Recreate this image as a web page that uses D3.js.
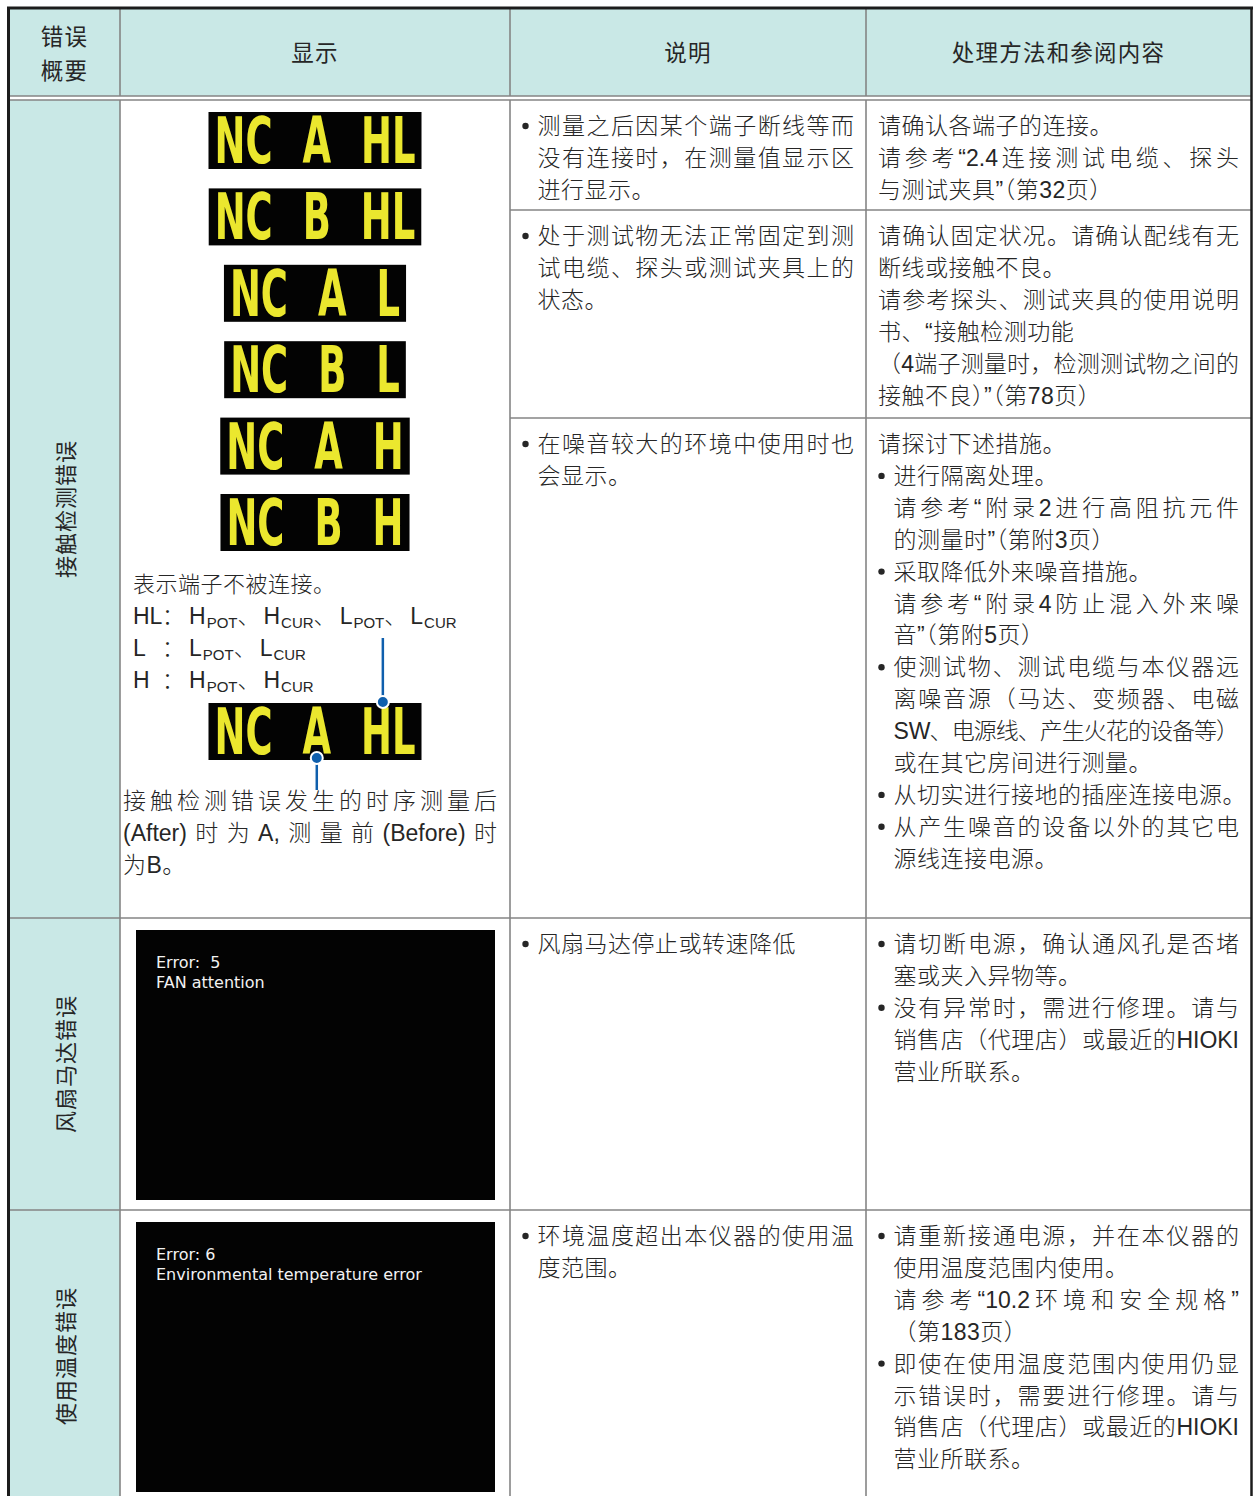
<!DOCTYPE html>
<html><head><meta charset="utf-8">
<script src="https://cdn.jsdelivr.net/npm/d3@7"></script>
<style>
html,body{margin:0;padding:0;background:#fff;}
svg{display:block;}
</style></head><body>
<svg id="chart" width="1253" height="1496"></svg>
<script>
// ---------------- DATA ----------------
const columnHeaders = [["错误", "概要"], ["显示"], ["说明"], ["处理方法和参阅内容"]];
const errorCategories = ["接触检测错误", "风扇马达错误", "使用温度错误"];
const ncDisplays = ["NC A HL", "NC B HL", "NC A L", "NC B L", "NC A H", "NC B H"];
const ncExample = "NC A HL";
const terminalNote = "表示端子不被连接。";
const terminalLabels = ["HL", "L", "H"];
const terminalLists = [
  [["H", "POT"], ["H", "CUR"], ["L", "POT"], ["L", "CUR"]],
  [["L", "POT"], ["L", "CUR"]],
  [["H", "POT"], ["H", "CUR"]]
];
const timingNote = ["接触检测错误发生的时序测量后", "(After) 时 为 A, 测 量 前 (Before) 时", "为B。"];
const screenMessages = [["Error:  5", "FAN attention"], ["Error: 6", "Environmental temperature error"]];

// paragraph kinds: "bullet" = bullet item, "indent" = indented text, "plain" = plain text
const descriptions = [
  [{kind: "bullet", lines: ["测量之后因某个端子断线等而", "没有连接时，在测量值显示区", "进行显示。"]}],
  [{kind: "bullet", lines: ["处于测试物无法正常固定到测", "试电缆、探头或测试夹具上的", "状态。"]}],
  [{kind: "bullet", lines: ["在噪音较大的环境中使用时也", "会显示。"]}],
  [{kind: "bullet", lines: ["风扇马达停止或转速降低"]}],
  [{kind: "bullet", lines: ["环境温度超出本仪器的使用温", "度范围。"]}]
];
const remedies = [
  [
    {kind: "plain", lines: ["请确认各端子的连接。"]},
    {kind: "plain", lines: ["请参考“2.4 连接测试电缆、探头", "与测试夹具”（第32页）"]}
  ],
  [
    {kind: "plain", lines: ["请确认固定状况。请确认配线有无", "断线或接触不良。"]},
    {kind: "plain", lines: ["请参考探头、测试夹具的使用说明", "书、“接触检测功能"]},
    {kind: "plain", lines: ["（4端子测量时，检测测试物之间的", "接触不良）”（第78页）"]}
  ],
  [
    {kind: "plain", lines: ["请探讨下述措施。"]},
    {kind: "bullet", lines: ["进行隔离处理。"]},
    {kind: "indent", lines: ["请参考“附录2 进行高阻抗元件", "的测量时”（第附3页）"]},
    {kind: "bullet", lines: ["采取降低外来噪音措施。"]},
    {kind: "indent", lines: ["请参考“附录4 防止混入外来噪", "音”（第附5页）"]},
    {kind: "bullet", lines: ["使测试物、测试电缆与本仪器远", "离噪音源（马达、变频器、电磁", "SW、电源线、产生火花的设备等）", "或在其它房间进行测量。"]},
    {kind: "bullet", lines: ["从切实进行接地的插座连接电源。"]},
    {kind: "bullet", lines: ["从产生噪音的设备以外的其它电", "源线连接电源。"]}
  ],
  [
    {kind: "bullet", lines: ["请切断电源，确认通风孔是否堵", "塞或夹入异物等。"]},
    {kind: "bullet", lines: ["没有异常时，需进行修理。请与", "销售店（代理店）或最近的HIOKI", "营业所联系。"]}
  ],
  [
    {kind: "bullet", lines: ["请重新接通电源，并在本仪器的", "使用温度范围内使用。"]},
    {kind: "indent", lines: ["请参考“10.2 环境和安全规格”", "（第183页）"]},
    {kind: "bullet", lines: ["即使在使用温度范围内使用仍显", "示错误时，需要进行修理。请与", "销售店（代理店）或最近的HIOKI", "营业所联系。"]}
  ]
];

// ---------------- LAYOUT ----------------
const W = 1253, H = 1496;
const colX = [9, 120, 510, 866, 1251];
const headTop = 9, headBottom = 96, bodyTop = 100;
const rowY = [100, 918, 1210, 1496];          // main rows
const cellTops = [100, 210, 418, 918, 1210];  // rows of columns 3/4
const teal = "#c9e8e6", grid = "#858585", border = "#1c1c1c", ink = "#262626";
const FONT = "'Liberation Sans', 'Noto Sans CJK SC', sans-serif";
const BODY_SIZE = 23, LINE_H = 31.9, FIRST_BASE = 34;

const svg = d3.select("#chart");

function bodyFont(sel, size) {
  sel.attr("font-family", FONT).attr("font-size", size || BODY_SIZE).attr("font-weight", 300).attr("fill", ink);
}
const meas = svg.append("text").attr("visibility", "hidden").attr("x", -1000).attr("y", -1000);
function measure(str, size, family, weight) {
  meas.attr("font-family", family || FONT).attr("font-size", size || BODY_SIZE)
      .attr("font-weight", weight || 300).text(str);
  return meas.node().getComputedTextLength();
}
function tokenize(line) {
  const toks = []; let cur = "";
  for (const ch of line) {
    if (ch === " ") { if (cur) { toks.push(cur); cur = ""; } }
    else if (/[\x21-\x7E“”‘’]/.test(ch)) { cur += ch; }
    else { if (cur) { toks.push(cur); cur = ""; } toks.push(ch); }
  }
  if (cur) toks.push(cur);
  return toks;
}
function justifyLine(g, line, x0, x1, y, size) {
  const toks = tokenize(line);
  const ws = toks.map(t => measure(t, size));
  const gap = toks.length > 1 ? (x1 - x0 - d3.sum(ws)) / (toks.length - 1) : 0;
  const t = g.append("text").attr("y", y).call(bodyFont, size).style("white-space", "pre");
  let x = x0;
  toks.forEach((tk, i) => { t.append("tspan").attr("x", x).text(tk); x += ws[i] + gap; });
}
function plainLine(g, line, x, y, size) {
  g.append("text").attr("x", x).attr("y", y).call(bodyFont, size)
    .attr("letter-spacing", 0.5).style("white-space", "pre").text(line);
}

// ---------------- BACKGROUNDS ----------------
svg.append("rect").attr("x", colX[0]).attr("y", headTop).attr("width", colX[4] - colX[0])
  .attr("height", headBottom - headTop).attr("fill", teal);
svg.append("rect").attr("x", colX[0]).attr("y", bodyTop).attr("width", colX[1] - colX[0])
  .attr("height", H - bodyTop).attr("fill", teal);

// ---------------- GRID ----------------
const gridG = svg.append("g").attr("stroke", grid).attr("stroke-width", 1.6);
[headBottom, bodyTop].forEach(y => gridG.append("line").attr("x1", colX[0]).attr("x2", colX[4]).attr("y1", y).attr("y2", y));
colX.slice(1, 4).forEach(x => {
  gridG.append("line").attr("x1", x).attr("x2", x).attr("y1", headTop).attr("y2", headBottom);
  gridG.append("line").attr("x1", x).attr("x2", x).attr("y1", bodyTop).attr("y2", H);
});
rowY.slice(1, 3).forEach(y => gridG.append("line").attr("x1", colX[0]).attr("x2", colX[4]).attr("y1", y).attr("y2", y));
[cellTops[1], cellTops[2]].forEach(y => gridG.append("line").attr("x1", colX[2]).attr("x2", colX[4]).attr("y1", y).attr("y2", y));

// outer border
const bG = svg.append("g").attr("stroke", border);
bG.append("line").attr("x1", 7).attr("x2", 1253).attr("y1", 8).attr("y2", 8).attr("stroke-width", 3);
bG.append("line").attr("x1", 8.5).attr("x2", 8.5).attr("y1", 7).attr("y2", H).attr("stroke-width", 3);
bG.append("line").attr("x1", 1251.5).attr("x2", 1251.5).attr("y1", 7).attr("y2", H).attr("stroke-width", 2.5);

// ---------------- HEADER ----------------
const headG = svg.append("g");
columnHeaders.forEach((lines, i) => {
  const cx = (colX[i] + colX[i + 1]) / 2;
  const mid = (headTop + headBottom) / 2 + 0.5;
  const ys = d3.scaleLinear().domain([0, 1]).range(lines.length > 1 ? [mid - 8, mid + 26] : [mid + 8, mid + 8]);
  lines.forEach((l, j) => {
    headG.append("text").attr("x", cx).attr("y", ys(j)).attr("text-anchor", "middle")
      .call(bodyFont, 22.5).attr("font-weight", 400).attr("letter-spacing", 1.2).text(l);
  });
});

// ---------------- CATEGORY LABELS (vertical) ----------------
errorCategories.forEach((c, i) => {
  const cy = (rowY[i] + rowY[i + 1]) / 2 + (i === 2 ? 3 : 0);
  svg.append("text").attr("transform", `translate(${(colX[0] + colX[1]) / 2 + 1},${cy}) rotate(-90)`)
    .attr("y", 8).attr("text-anchor", "middle").call(bodyFont, 22).attr("font-weight", 400)
    .attr("letter-spacing", 1).text(c);
});

// ---------------- NC DISPLAYS ----------------
const dispG = svg.append("g");
const DISP_FONT = "'DejaVu Sans', sans-serif", DISP_SIZE = 64, DISP_H = 57, DISP_PAD = 6, DISP_GAP = 30;
const dispScale = 58 / measure("NC", DISP_SIZE, DISP_FONT, "bold");
const dispCx = (colX[1] + colX[2]) / 2;
function drawDisplay(str, y) {
  const toks = str.split(" ");
  const ws = toks.map(t => measure(t, DISP_SIZE, DISP_FONT, "bold") * dispScale);
  const tw = d3.sum(ws) + DISP_GAP * (toks.length - 1);
  const x0 = dispCx - tw / 2;
  dispG.append("rect").attr("x", x0 - DISP_PAD).attr("y", y).attr("width", tw + 2 * DISP_PAD)
    .attr("height", DISP_H).attr("fill", "#030303");
  const pos = [];
  let x = x0;
  toks.forEach((tk, i) => {
    dispG.append("text").attr("transform", `translate(${x},${y + 51}) scale(${dispScale},1)`)
      .attr("font-family", DISP_FONT).attr("font-size", DISP_SIZE).attr("font-weight", "bold")
      .attr("fill", "#ebe72e").text(tk);
    pos.push({x, w: ws[i]});
    x += ws[i] + DISP_GAP;
  });
  return pos;
}
const dispY = d3.scaleLinear().domain([0, 1]).range([112, 188.4]);
ncDisplays.forEach((d, i) => drawDisplay(d, dispY(i)));

// ---------------- TERMINAL NOTES ----------------
const noteG = svg.append("g");
plainLine(noteG, terminalNote, 133, 592, 22);
const termY = d3.scaleLinear().domain([0, 1]).range([624, 656]);
terminalLabels.forEach((lab, i) => {
  const y = termY(i);
  noteG.append("text").attr("x", 133).attr("y", y).call(bodyFont, 23).text(lab);
  noteG.append("text").attr("x", 162).attr("y", y).call(bodyFont, 22).text("：");
  const t = noteG.append("text").attr("x", 189).attr("y", y).call(bodyFont, 23);
  const terms = terminalLists[i];
  terms.forEach((tm, k) => {
    t.append("tspan").attr("dx", k > 0 ? 4 : 0).text(tm[0]);
    t.append("tspan").attr("font-size", 15).attr("dy", 4).attr("dx", 1).text(tm[1]);
    if (k < terms.length - 1) t.append("tspan").attr("font-size", 22).attr("dy", -4).text("、");
  });
});

// example display with annotations
const exY = 703;
const ex = drawDisplay(ncExample, exY);
const hlX = ex[2].x + ex[2].w * 0.4;
const aX = ex[1].x + ex[1].w / 2;
const blue = "#0f5fad";
const annG = svg.append("g");
annG.append("line").attr("x1", hlX).attr("x2", hlX).attr("y1", 638).attr("y2", exY - 1)
  .attr("stroke", blue).attr("stroke-width", 2.5);
annG.append("circle").attr("cx", hlX).attr("cy", exY - 1).attr("r", 6).attr("fill", blue)
  .attr("stroke", "#fff").attr("stroke-width", 2);
annG.append("line").attr("x1", aX).attr("x2", aX).attr("y1", exY + DISP_H - 2).attr("y2", 790)
  .attr("stroke", blue).attr("stroke-width", 2.5);
annG.append("circle").attr("cx", aX).attr("cy", exY + DISP_H - 2).attr("r", 6).attr("fill", blue)
  .attr("stroke", "#fff").attr("stroke-width", 2);

// timing note
const timY = d3.scaleLinear().domain([0, 1]).range([809, 841]);
timingNote.forEach((l, i) => {
  if (i < timingNote.length - 1) justifyLine(noteG, l, 123, 497, timY(i), 23);
  else plainLine(noteG, l, 123, timY(i), 23);
});

// ---------------- SCREENS ----------------
screenMessages.forEach((msg, i) => {
  const top = rowY[i + 1];
  svg.append("rect").attr("x", 136).attr("y", top + 12).attr("width", 359).attr("height", 270).attr("fill", "#030303");
  msg.forEach((m, j) => {
    svg.append("text").attr("x", 156).attr("y", top + 50 + j * 19.5)
      .attr("font-family", "'DejaVu Sans', sans-serif").attr("font-size", 16)
      .attr("fill", "#f2f2f2").style("white-space", "pre").text(m);
  });
});

// ---------------- TEXT CELLS ----------------
function renderCell(paras, c0, c1, top) {
  const g = svg.append("g");
  const y = d3.scaleLinear().domain([0, 1]).range([top + FIRST_BASE, top + FIRST_BASE + LINE_H]);
  let n = 0;
  const right = c1 - 12;
  paras.forEach(p => {
    const x0 = p.kind === "plain" ? c0 + 12 : c0 + 27.5;
    p.lines.forEach((l, i) => {
      const yy = y(n);
      if (p.kind === "bullet" && i === 0) {
        g.append("circle").attr("cx", c0 + 15.5).attr("cy", yy - 8).attr("r", 3.2).attr("fill", ink);
      }
      if (i < p.lines.length - 1) justifyLine(g, l, x0, right, yy);
      else plainLine(g, l, x0, yy);
      n++;
    });
  });
}
descriptions.forEach((d, i) => renderCell(d, colX[2], colX[3], cellTops[i]));
remedies.forEach((d, i) => renderCell(d, colX[3], colX[4], cellTops[i]));
</script>
</body></html>
